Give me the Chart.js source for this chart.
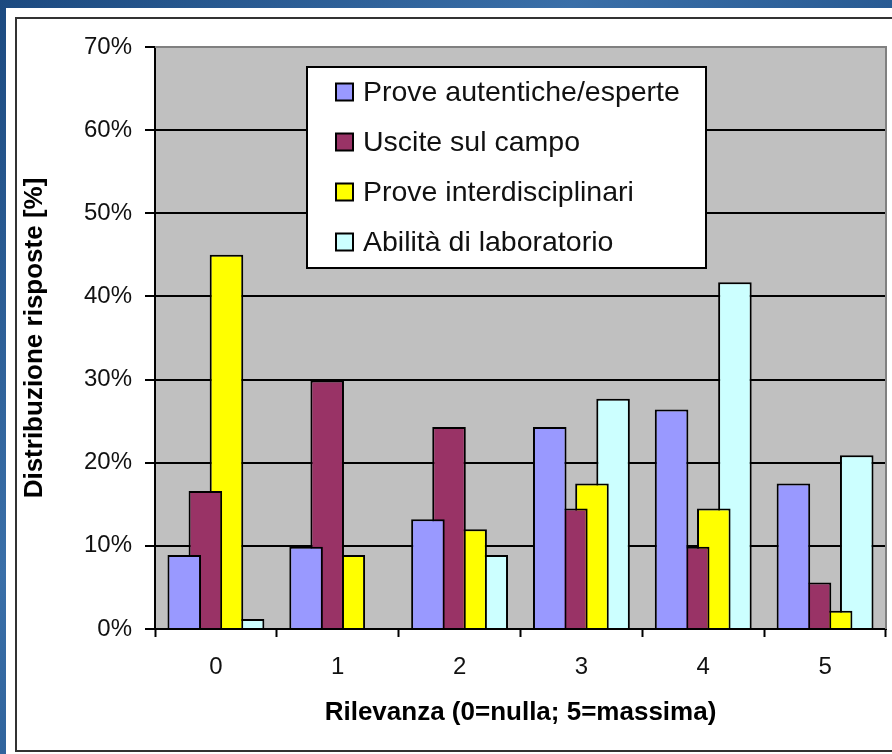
<!DOCTYPE html>
<html lang="it">
<head>
<meta charset="utf-8">
<title>Distribuzione risposte</title>
<script src="https://cdn.jsdelivr.net/npm/chart.js@4.4.1/dist/chart.umd.min.js"></script>
<style>
  html, body { margin: 0; padding: 0; }
  body {
    width: 892px; height: 754px; overflow: hidden; position: relative;
    background: linear-gradient(135deg, #1c4a80 0%, #3a6fa8 35%, #1f5088 65%, #2b5f97 100%);
  }
  #frame { position: absolute; left: 6px; top: 8px; width: 900px; height: 760px; background: #fff; }
  #border { position: absolute; left: 15px; top: 17px; width: 900px; height: 731px; border: 2px solid #333; }
  #wrap { position: absolute; left: 0; top: 0; width: 892px; height: 754px; }
</style>
</head>
<body>
<div id="frame"></div>
<div id="border"></div>
<div id="wrap"><canvas id="chart" width="892" height="754"></canvas></div>
<script>
// categorie sull'asse x (rilevanza 0..5)
var categorie = ['0', '1', '2', '3', '4', '5'];

// percentuali
var proveAutentiche = [8.9, 9.9, 13.2, 24.3, 26.4, 17.5];
var usciteCampo     = [16.6, 29.9, 24.3, 14.5, 9.9, 5.6];
var proveInterdisc  = [45.0, 8.9, 12.0, 17.5, 14.5, 2.2];
var abilitaLab      = [1.2, 0, 8.9, 27.7, 41.7, 20.9];

var nomiSerie = ['Prove autentiche/esperte', 'Uscite sul campo', 'Prove interdisciplinari', 'Abilità di laboratorio'];
var coloriSerie = ['#9999FF', '#993366', '#FFFF00', '#CCFFFF'];

var yMin = 0, yMax = 70, yStep = 10;

var FONT = '"Liberation Sans", Arial, sans-serif';

// sfondo grigio dell'area del grafico + bordo sopra/destra
var plotArea = {
  id: 'plotArea',
  beforeDraw: function (chart) {
    var a = chart.chartArea, c = chart.ctx;
    c.save();
    c.fillStyle = '#C0C0C0';
    c.fillRect(a.left, a.top, a.right - a.left, a.bottom - a.top);
    c.restore();
  },
  beforeDatasetsDraw: function (chart) {
    var a = chart.chartArea, c = chart.ctx;
    c.save();
    c.strokeStyle = '#808080';
    c.lineWidth = 2;
    c.beginPath();
    c.moveTo(a.left, a.top);
    c.lineTo(a.right, a.top);
    c.lineTo(a.right, a.bottom);
    c.stroke();
    c.restore();
  }
};

// legenda dentro l'area del grafico (riquadro bianco)
var boxLegenda = {
  id: 'boxLegenda',
  afterDraw: function (chart) {
    var a = chart.chartArea, c = chart.ctx;
    var x = a.left + 152, y = a.top + 20, w = 399, h = 201;
    c.save();
    c.fillStyle = '#fff';
    c.fillRect(x, y, w, h);
    c.strokeStyle = '#000';
    c.lineWidth = 2;
    c.strokeRect(x, y, w, h);
    c.font = '28.5px ' + FONT;
    c.textBaseline = 'middle';
    c.textAlign = 'left';
    chart.data.datasets.forEach(function (ds, i) {
      var cy = y + 25 + i * 50;
      c.fillStyle = ds.backgroundColor;
      c.fillRect(x + 29, cy - 8.5, 17, 17);
      c.strokeStyle = '#000';
      c.lineWidth = 2;
      c.strokeRect(x + 29, cy - 8.5, 17, 17);
      c.fillStyle = '#111';
      c.fillText(ds.label, x + 56, cy + 1);
    });
    c.restore();
  }
};

var serie = [proveAutentiche, usciteCampo, proveInterdisc, abilitaLab];
var datasets = serie.map(function (d, i) {
  return {
    label: nomiSerie[i],
    data: d,
    backgroundColor: coloriSerie[i],
    borderColor: '#000',
    borderWidth: 2,
    categoryPercentage: 0.693,
    barPercentage: 1.59
  };
});

new Chart(document.getElementById('chart').getContext('2d'), {
  type: 'bar',
  data: { labels: categorie, datasets: datasets },
  plugins: [plotArea, boxLegenda],
  options: {
    responsive: false,
    animation: false,
    devicePixelRatio: 1,
    layout: { padding: { left: 0, top: 47, right: 6, bottom: 25 } },
    plugins: { legend: { display: false }, tooltip: { enabled: false } },
    scales: {
      x: {
        offset: true,
        grid: { offset: true, drawOnChartArea: false, drawTicks: true, tickLength: 8, tickColor: '#000', tickWidth: 2, color: '#000' },
        border: { color: '#000', width: 2 },
        ticks: { padding: 16, color: '#111', font: { family: FONT, size: 24 } },
        title: {
          display: true,
          text: 'Rilevanza (0=nulla; 5=massima)',
          color: '#000',
          font: { family: FONT, size: 26, weight: 'bold' },
          padding: { top: 0, bottom: 1 }
        },
        afterFit: function (s) { s.height = 100; }
      },
      y: {
        min: yMin,
        max: yMax,
        ticks: {
          stepSize: yStep,
          padding: 13,
          color: '#111',
          font: { family: FONT, size: 24 },
          callback: function (v) { return v + '%'; }
        },
        grid: {
          color: function (ctx) { return ctx.tick && ctx.tick.value === yMax ? 'rgba(0,0,0,0)' : '#000'; },
          lineWidth: 2,
          tickLength: 10,
          tickColor: '#000',
          tickWidth: 2
        },
        border: { color: '#000', width: 2 },
        title: {
          display: true,
          text: 'Distribuzione risposte [%]',
          color: '#000',
          font: { family: FONT, size: 26, weight: 'bold' },
          padding: { top: 19, bottom: 0 }
        },
        afterFit: function (s) { s.width = 155; }
      }
    }
  }
});
</script>
</body>
</html>
